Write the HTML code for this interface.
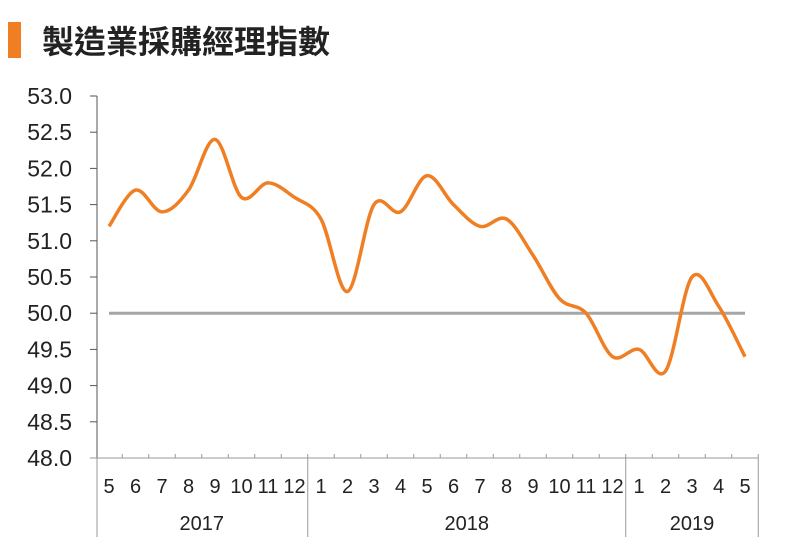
<!DOCTYPE html>
<html><head><meta charset="utf-8"><style>
body{margin:0;background:#fff;}
svg{display:block;font-family:"Liberation Sans","Noto Sans CJK TC",sans-serif;}
</style></head><body>
<svg id="chart" width="800" height="549" viewBox="0 0 800 549">
<rect x="8" y="22" width="13" height="36" fill="#f07f24"/>
<text x="42" y="53" font-size="32" font-weight="bold" fill="#222" font-family="'Liberation Sans','Noto Sans CJK TC',sans-serif">製造業採購經理指數</text>
<g id="axes"></g>
<g id="marks"></g>
</svg>
<script>
const months=["5","6","7","8","9","10","11","12","1","2","3","4","5","6","7","8","9","10","11","12","1","2","3","4","5"];
const years=["2017","2018","2019"];
const yearCounts=[8,12,5];
const pmi=[51.2,51.7,51.4,51.7,52.4,51.6,51.8,51.6,51.3,50.3,51.5,51.4,51.9,51.5,51.2,51.3,50.8,50.2,50.0,49.4,49.5,49.2,50.5,50.1,49.4];
const yTicks=["48.0","48.5","49.0","49.5","50.0","50.5","51.0","51.5","52.0","52.5","53.0"];
const refValue=50;

const NS="http://www.w3.org/2000/svg";
const x0=95.75,band=26.5,yMin=48,yMax=53,yBot=458,yTop=96;
const xC=i=>x0+band*(i+0.5);
const xB=i=>x0+band*i;
const yS=v=>yBot-(v-yMin)/(yMax-yMin)*(yBot-yTop);
function mk(tag,attrs,parent){const e=document.createElementNS(NS,tag);for(const k in attrs)e.setAttribute(k,attrs[k]);parent.appendChild(e);return e;}
const ax=document.getElementById('axes'),mg=document.getElementById('marks');
let l=mk('line',{x1:97,y1:yTop,x2:97,y2:yBot,stroke:'#555','stroke-width':1},ax);


yTicks.forEach(t=>{const y=yS(parseFloat(t));
 const tk=mk('line',{x1:90,y1:y,x2:97,y2:y,stroke:'#555'},ax);
 
 
 const tx=mk('text',{x:72,y:y+8,'font-size':23,'text-anchor':'end',fill:'#222'},ax);tx.textContent=t;
 
 
});
l=mk('line',{x1:90,y1:yBot,x2:xB(months.length),y2:yBot,stroke:'#999','stroke-width':1},ax);


for(let i=1;i<=months.length;i++){const t=mk('line',{x1:xB(i),y1:yBot-4,x2:xB(i),y2:yBot,stroke:'#999'},ax);
 
 }
months.forEach((m,i)=>{const tx=mk('text',{x:xC(i),y:493,'font-size':20,'text-anchor':'middle',fill:'#222'},ax);tx.textContent=m;
 
 });
let start=0;
const sep0=mk('line',{x1:97,y1:yBot,x2:97,y2:537,stroke:'#999'},ax);


years.forEach((yr,j)=>{const end=start+yearCounts[j];
 const s=mk('line',{x1:xB(end),y1:yBot,x2:xB(end),y2:537,stroke:'#999'},ax);
 
 
 const tx=mk('text',{x:(xB(start)+xB(end))/2,y:530,'font-size':20,'text-anchor':'middle',fill:'#222'},ax);tx.textContent=yr;
 
 
 start=end;});
l=mk('line',{x1:xC(0),y1:yS(refValue),x2:xC(months.length-1),y2:yS(refValue),stroke:'#a6a6a6','stroke-width':3},mg);


const pts=pmi.map((v,i)=>[xC(i),yS(v)]);
let d=`M${pts[0][0]},${pts[0][1]}`;
for(let i=0;i<pts.length-1;i++){const p0=pts[Math.max(0,i-1)],p1=pts[i],p2=pts[i+1],p3=pts[Math.min(pts.length-1,i+2)];
 const c1=[p1[0]+(p2[0]-p0[0])/6,p1[1]+(p2[1]-p0[1])/6],c2=[p2[0]-(p3[0]-p1[0])/6,p2[1]-(p3[1]-p1[1])/6];
 d+=` C${c1[0]},${c1[1]} ${c2[0]},${c2[1]} ${p2[0]},${p2[1]}`;}
const path=mk('path',{d:d,fill:'none',stroke:'#f07f24','stroke-width':3.5,'stroke-linejoin':'round'},mg);


</script>
</body></html>
